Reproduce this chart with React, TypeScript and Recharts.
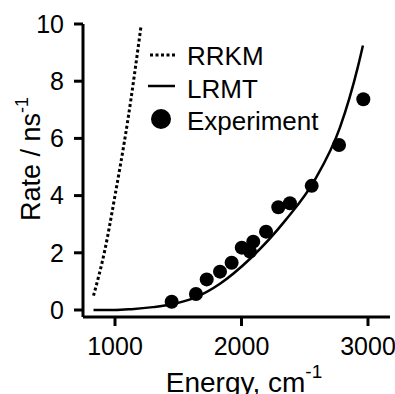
import React from 'react'
import { ComposedChart, Line, Scatter, XAxis, YAxis, Legend, Label } from 'recharts'

// RRKM theory (dotted)
const rrkmEnergy = [830, 920, 1000, 1100, 1205]
const rrkmRate = [0.5, 2.1, 4.0, 6.6, 9.9]

// LRMT theory (solid)
const lrmtEnergy = [830, 1000, 1130, 1300, 1450, 1640, 1830, 2070, 2350, 2580, 2780, 2920, 2960]
const lrmtRate = [0, 0, 0.03, 0.1, 0.2, 0.45, 0.92, 1.8, 3.15, 4.55, 6.4, 8.5, 9.25]

// experimental points
const expEnergy = [1448, 1640, 1725, 1830, 1922, 2002, 2067, 2093, 2194, 2291, 2383, 2555, 2771, 2963]
const expRate = [0.29, 0.56, 1.07, 1.34, 1.65, 2.18, 2.04, 2.39, 2.74, 3.59, 3.73, 4.34, 5.77, 7.37]

const xTicks = [1000, 2000, 3000]
const yTicks = [0, 2, 4, 6, 8, 10]

const toRows = (xs: number[], ys: number[]) => xs.map((energy, i) => ({ energy, rate: ys[i] }))

const rrkmData = toRows(rrkmEnergy, rrkmRate)
const lrmtData = toRows(lrmtEnergy, lrmtRate)
const expData = toRows(expEnergy, expRate)

const FONT = '"Liberation Sans", Arial, Helvetica, sans-serif'

const Dot = (props: any) => <circle cx={props.cx} cy={props.cy} r={7} fill="#000" />

const LegendBox = () => (
  <svg width={220} height={110} style={{ fontFamily: FONT, display: 'block' }}>
    <line x1={5} y1={19} x2={30} y2={19} stroke="#000" strokeWidth={3} strokeDasharray="3 2.5" />
    <text x={42} y={29} fontSize={26} fill="#000">RRKM</text>
    <line x1={3} y1={50} x2={30} y2={50} stroke="#000" strokeWidth={2.5} />
    <text x={42} y={62} fontSize={26} fill="#000">LRMT</text>
    <circle cx={16} cy={83} r={10} fill="#000" />
    <text x={42} y={94} fontSize={26} fill="#000">Experiment</text>
  </svg>
)

const YLabel = (props: any) => {
  const { viewBox } = props
  const cx = viewBox.x + 40
  const cy = viewBox.y + 135
  return (
    <text x={cx} y={cy} transform={`rotate(-90 ${cx} ${cy})`} textAnchor="middle" fontSize={27} fill="#000" fontFamily={FONT}>
      Rate / ns<tspan fontSize={18} dy={-12}>-1</tspan>
    </text>
  )
}

const XLabel = (props: any) => {
  const { viewBox } = props
  const cx = 244
  const cy = viewBox.y + 75
  return (
    <text x={cx} y={cy} textAnchor="middle" fontSize={28} fill="#000" fontFamily={FONT}>
      Energy, cm<tspan fontSize={19} dy={-14}>-1</tspan>
    </text>
  )
}

export default function App() {
  const tickStyle = { fill: '#000', fontSize: 25, fontFamily: FONT }
  return (
    <div style={{ position: 'absolute', left: 0, top: 0, background: '#fff' }}>
      <ComposedChart width={395} height={394} margin={{ top: 24, right: 5, bottom: 0, left: 0 }}>
        <XAxis
          dataKey="energy"
          type="number"
          domain={[747, 3174]}
          allowDataOverflow
          ticks={xTicks}
          interval={0}
          axisLine={{ stroke: '#000', strokeWidth: 3 }}
          tickLine={{ stroke: '#000', strokeWidth: 3 }}
          tickSize={9}
          tickMargin={11}
          tick={tickStyle}
          height={77}
        >
          <Label content={XLabel} />
        </XAxis>
        <YAxis
          type="number"
          domain={[-0.245, 10]}
          allowDataOverflow
          ticks={yTicks}
          interval={0}
          axisLine={{ stroke: '#000', strokeWidth: 3 }}
          tickLine={{ stroke: '#000', strokeWidth: 3 }}
          tickSize={9}
          tickMargin={10}
          tick={tickStyle}
          width={83}
        >
          <Label content={YLabel} />
        </YAxis>
        <Legend
          layout="horizontal"
          verticalAlign="middle"
          align="center"
          content={LegendBox}
          wrapperStyle={{ position: 'absolute', left: 145, top: 36, width: 220 }}
        />
        <Line
          data={rrkmData}
          dataKey="rate"
          name="RRKM"
          type="monotone"
          stroke="#000"
          strokeWidth={3}
          strokeDasharray="3 2.5"
          dot={false}
          isAnimationActive={false}
        />
        <Line
          data={lrmtData}
          dataKey="rate"
          name="LRMT"
          type="monotone"
          stroke="#000"
          strokeWidth={2.5}
          dot={false}
          isAnimationActive={false}
        />
        <Scatter
          data={expData}
          dataKey="rate"
          name="Experiment"
          fill="#000"
          shape={Dot}
          isAnimationActive={false}
        />
      </ComposedChart>
    </div>
  )
}
